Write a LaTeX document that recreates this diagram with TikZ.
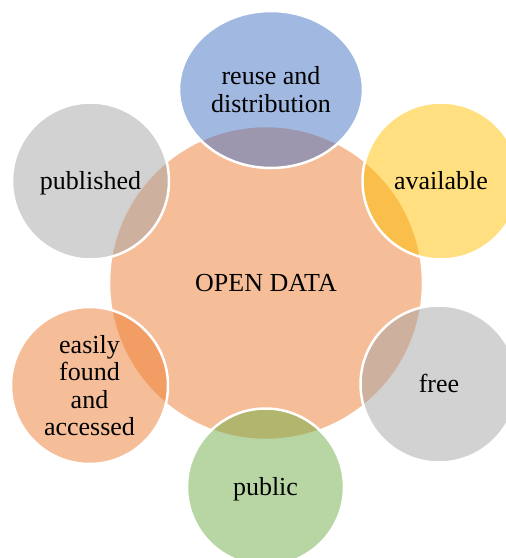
\documentclass[tikz,border=0pt]{standalone}
\usepackage{fontspec}
\setmainfont{Liberation Serif}
\usetikzlibrary{shapes.geometric}
\definecolor{cOrange}{HTML}{ED7D31}
\definecolor{cBlue}{HTML}{4472C4}
\definecolor{cYellow}{HTML}{FFC000}
\definecolor{cGray}{HTML}{A5A5A5}
\definecolor{cGreen}{HTML}{70AD47}
\begin{document}
\begin{tikzpicture}[x=1pt,y=-1pt,
  bubble/.style={circle, minimum size=157pt, inner sep=0pt, fill opacity=0.5, text opacity=1,
    draw=white, line width=2.5pt, font=\fontsize{26}{27.4}\selectfont, align=center, text=black},
  oneline/.style={text height=17.8pt, text depth=0pt}]
\useasboundingbox (0,0) rectangle (506,558);
\clip (0,0) rectangle (506,558);
\node[bubble, minimum size=314pt, fill=cOrange, oneline] (open) at (266,283) {OPEN DATA};
\node[bubble, ellipse, minimum width=184pt, minimum height=157pt, fill=cBlue] (reuse) at (271,89.5) {reuse and\\distribution};
\node[bubble, fill=cYellow, oneline] (avail) at (441,181) {available};
\node[bubble, fill=cGray, oneline] (free) at (439,384) {free};
\node[bubble, fill=cGreen, oneline] (public) at (265.5,487) {public};
\node[bubble, fill=cOrange] (easy) at (89.5,385.5) {easily\\found\\and\\accessed};
\node[bubble, fill=cGray, oneline] (pub) at (90.5,181) {published};
\end{tikzpicture}
\end{document}
